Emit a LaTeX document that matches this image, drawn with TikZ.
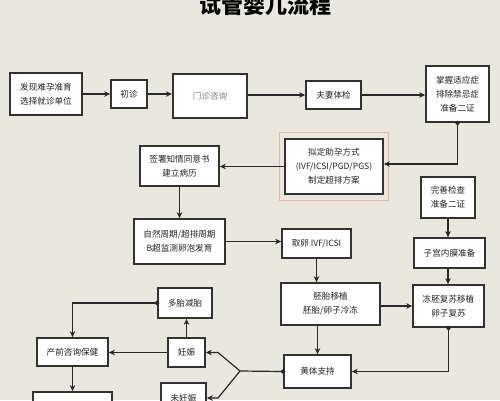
\documentclass[tikz,border=0pt]{standalone}
\usepackage{fontspec}
\newfontfamily\cjk{Noto Sans CJK SC}
\usetikzlibrary{arrows.meta}
\definecolor{bgc}{RGB}{234,232,222}
\definecolor{boxc}{RGB}{50,50,48}
\definecolor{linec}{RGB}{40,40,38}
\definecolor{pinkc}{RGB}{232,186,166}
\definecolor{txtc}{RGB}{35,35,35}
\tikzset{
  box/.style={draw=boxc, line width=1.7pt, fill=white, inner sep=0pt, align=center,
    font=\cjk\fontsize{8.6}{14}\selectfont, text=txtc},
  arr/.style={draw=linec, line width=1.2pt, -{Stealth[length=6pt,width=5.5pt]}},
  ln/.style={draw=linec, line width=1.2pt},
  dotc/.style={fill=linec, draw=none}
}
\begin{document}
\begin{tikzpicture}[x=1pt,y=-1pt]
\useasboundingbox (0,0) rectangle (500,400);
\clip (0,0) rectangle (500,400);
\fill[bgc] (0,0) rectangle (500,400);
% title
\node (title) at (265,5) {\cjk\bfseries\fontsize{22}{24}\selectfont 试管婴儿流程};
% nodes
\node[box, minimum width=72pt, minimum height=42pt] (n1) at (46,94) {发现难孕准育\\选择就诊单位};
\node[box, minimum width=36pt, minimum height=28pt] (n2) at (129,94) {初诊};
\node[box, line width=2.1pt, minimum width=74pt, minimum height=44pt, text=gray] (n3) at (210,96) {门诊咨询};
\node[box, minimum width=55pt, minimum height=28pt] (n4) at (333.5,95) {夫妻体检};
\node[box, minimum width=63pt, minimum height=56pt] (n5) at (457.5,94) {掌握适应症\\排除禁忌症\\准备二证};
\node[draw=pinkc, line width=1.5pt, minimum width=109pt, minimum height=68pt, inner sep=0pt] (n6o) at (334,166.5) {};
\node[box, minimum width=98pt, minimum height=55pt] (n6) at (334,166.5) {拟定助孕方式\\(IVF/ICSI/PGD/PGS)\\制定超排方案};
\node[box, minimum width=79pt, minimum height=40pt] (n7) at (179.5,166) {签署知情同意书\\建立病历};
\node[box, minimum width=54pt, minimum height=41pt] (n8) at (448,197.5) {完善检查\\准备二证};
\node[box, minimum width=71pt, minimum height=30pt] (n9) at (449.5,253) {子宫内膜准备};
\node[box, minimum width=91pt, minimum height=45pt] (n10) at (179.5,241.5) {自然周期/超排周期\\B超监测卵泡发育};
\node[box, minimum width=69pt, minimum height=29pt] (n11) at (316.5,243.5) {取卵 IVF/ICSI};
\node[box, minimum width=99pt, minimum height=42pt] (n12) at (330.5,304) {胚胎移植\\胚胎/卵子冷冻};
\node[box, minimum width=71pt, minimum height=42pt] (n13) at (448.5,306) {冻胚复苏移植\\卵子复苏};
\node[box, minimum width=67pt, minimum height=33pt] (n14) at (317.5,371.5) {黄体支持};
\node[box, minimum width=54pt, minimum height=30pt] (n15) at (185,303) {多胎减胎};
\node[box, minimum width=37pt, minimum height=29pt] (n16) at (186.5,352.5) {妊娠};
\node[box, minimum width=71pt, minimum height=28pt] (n17) at (72.5,352) {产前咨询保健};
\node[box, minimum width=45pt, minimum height=30pt] (n18) at (183.5,398) {未妊娠};
\node[box, minimum width=79pt, minimum height=26pt] (n19) at (72.5,405) {};
% connectors
\draw[arr] (n1.east) -- (n1.east -| n2.west);
\draw[arr] (n2.east) -- (n2.east -| n3.west);
\draw[arr] (n3.east |- n4.east) -- (n4.west);
\draw[arr] (n4.east) -- (n4.east -| n5.west);
\draw[arr] (n5.south) |- ([yshift=2.5pt]n6.east);
\fill[dotc] (n5.south) circle (2.2pt);
\draw[arr] (n6.west) -- (n6.west -| n7.east);
\draw[arr] (n7.south) -- (n10.north);
\draw[arr] (n10.east) -- (n10.east -| n11.west);
\draw[arr] (n11.south) -- (n11.south |- n12.north);
\draw[arr] (n12.east |- n13.west) -- (n13.west);
\draw[arr] (n8.south) -- (n8.south |- n9.north);
\draw[arr] (n9.south -| n8.south) -- (n8.south |- n13.north);
\draw[arr] (n14.north |- n12.south) -- (n14.north);
\draw[arr] (n13.south) |- (n14.east);
\fill[dotc] (n13.south) circle (2.2pt);
\coordinate (br) at (240,371);
\coordinate (bu) at (218,352.5);
\coordinate (bd) at (218,398);
\draw[ln] (n14.west) -- (br);
\fill[dotc] (n14.west) circle (2.2pt);
\draw[arr] (br) -- (bu) -- (n16.east);
\draw[arr] (br) -- (bd) -- (n18.east);
\draw[arr] (n16.west) -- (n16.west -| n17.east);
\draw[arr] (n16.north) -- (n16.north |- n15.south);
\draw[arr] (n15.west) -| (n17.north);
\fill[dotc] (n15.west) circle (2.2pt);
\draw[arr] (n17.south) -- (n19.north);
\end{tikzpicture}
\end{document}
